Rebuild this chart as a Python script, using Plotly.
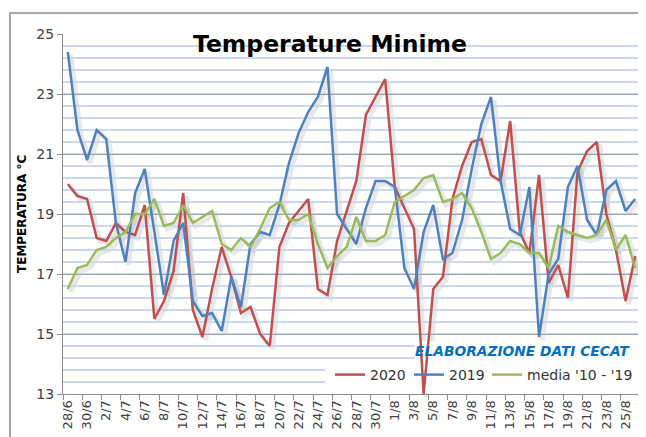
import plotly.graph_objects as go

# ---------------- data ----------------
dates = ([f"{d}/6" for d in range(28, 31)] +
         [f"{d}/7" for d in range(1, 32)] +
         [f"{d}/8" for d in range(1, 27)])

t2020 = [20.0, 19.6, 19.5, 18.2, 18.1, 18.7, 18.4, 18.3, 19.3, 15.5,
         16.1, 17.1, 19.7, 15.8, 14.9, 16.5, 17.9, 16.9, 15.7, 15.9,
         15.0, 14.6, 17.9, 18.7, 19.1, 19.5, 16.5, 16.3, 18.1, 19.1,
         20.1, 22.3, 22.9, 23.5, 19.9, 19.2, 18.5, 13.0, 16.5, 16.9,
         19.5, 20.6, 21.4, 21.5, 20.3, 20.1, 22.1, 18.4, 17.7, 20.3,
         16.7, 17.3, 16.2, 20.4, 21.1, 21.4, 19.0, 17.8, 16.1, 17.6]

t2019 = [24.4, 21.8, 20.8, 21.8, 21.5, 18.7, 17.4, 19.7, 20.5, 18.4,
         16.3, 18.1, 18.7, 16.1, 15.6, 15.7, 15.1, 16.9, 15.9, 18.0,
         18.4, 18.3, 19.3, 20.7, 21.7, 22.4, 22.9, 23.9, 19.0, 18.5,
         18.0, 19.2, 20.1, 20.1, 19.9, 17.2, 16.5, 18.4, 19.3, 17.5,
         17.7, 18.8, 20.5, 22.0, 22.9, 20.1, 18.5, 18.3, 19.9, 14.9,
         17.0, 17.5, 19.9, 20.6, 18.8, 18.3, 19.8, 20.1, 19.1, 19.5]

media = [16.5, 17.2, 17.3, 17.8, 17.9, 18.2, 18.4, 19.0, 19.0, 19.5,
         18.6, 18.7, 19.3, 18.7, 18.9, 19.1, 18.0, 17.8, 18.2, 17.9,
         18.5, 19.2, 19.4, 18.8, 18.8, 19.0, 18.0, 17.2, 17.6, 17.9,
         18.9, 18.1, 18.1, 18.3, 19.4, 19.6, 19.8, 20.2, 20.3, 19.4,
         19.5, 19.7, 19.2, 18.4, 17.5, 17.7, 18.1, 18.0, 17.7, 17.7,
         17.2, 18.6, 18.4, 18.3, 18.2, 18.3, 18.8, 17.8, 18.3, 17.2]

series = [("2020", t2020, "#c0504d", "legend"),
          ("2019", t2019, "#4f81bd", "legend"),
          ("media '10 - '19", media, "#9bbb59", "legend2")]

y_ticks = [13, 15, 17, 19, 21, 23, 25]
x_idx = list(range(len(dates)))
X_RANGE = [-0.5, len(dates) - 0.5]
Y_RANGE = [13, 25]

# ---------------- geometry helpers ----------------
OFF = 8                       # browser body margin
W, H = 646 - OFF, 437 - OFF   # 638 x 429
ML, MR, MT, MB = 63 - OFF, 3, 34 - OFF, 40
PW = W - ML - MR
PH = H - MT - MB
SH = 3                        # shadow offset px

def xp(px):                   # screen px -> paper
    return (px - OFF - ML) / PW

def yp(py):
    return (H - MB - (py - OFF)) / PH

PX0, PX1, PY0, PY1 = 63, 63 + PW - SH, 34, 34 + PH - SH   # main plot area (screen)

def xa(px):                   # screen px -> x2 axis units
    return X_RANGE[0] + (px - PX0) / (PX1 - PX0) * (X_RANGE[1] - X_RANGE[0])

def ya(py):                   # screen px -> y2 axis units
    return Y_RANGE[0] + (PY1 - py) / (PY1 - PY0) * (Y_RANGE[1] - Y_RANGE[0])

FONT = "DejaVu Sans"

fig = go.Figure()

# soft shadows (drawn first, on shifted hidden axes)
for name, vals, col, lg in series:
    fig.add_trace(go.Scatter(x=x_idx, y=vals, mode="lines", xaxis="x", yaxis="y",
                             line=dict(color="rgba(0,0,0,0.09)", width=5),
                             showlegend=False, hoverinfo="skip"))

# main lines
for name, vals, col, lg in series:
    fig.add_trace(go.Scatter(x=x_idx, y=vals, mode="lines", name=name,
                             xaxis="x2", yaxis="y2", legend=lg,
                             line=dict(color=col, width=2.5)))

legend_common = dict(orientation="h", yanchor="top", xanchor="left",
                     bgcolor="rgba(0,0,0,0)",
                     font=dict(size=14, color="#333333", family=FONT),
                     itemwidth=30, tracegroupgap=0)

fig.update_layout(
    width=W, height=H,
    margin=dict(l=ML, r=MR, t=MT, b=MB, pad=0),
    paper_bgcolor="white", plot_bgcolor="rgba(0,0,0,0)",
    font=dict(family=FONT, color="#404040", size=13),
    xaxis=dict(domain=[SH / PW, 1], range=X_RANGE, visible=False, anchor="y"),
    yaxis=dict(domain=[0, 1 - SH / PH], range=Y_RANGE, visible=False, anchor="x"),
    xaxis2=dict(domain=[0, 1 - SH / PW], range=X_RANGE, anchor="y2",
                tickmode="array", tickvals=x_idx[::2], ticktext=dates[::2],
                tickangle=-90, ticks="", showgrid=False, zeroline=False,
                showline=True, linecolor="#8c8c8c", linewidth=1,
                tickfont=dict(size=13, color="#404040"),
                minor=dict(tickmode="linear", tick0=-0.5, dtick=2, ticks="outside",
                           ticklen=5, tickcolor="#8c8c8c", tickwidth=1, showgrid=False)),
    yaxis2=dict(domain=[SH / PH, 1], range=Y_RANGE, anchor="x2",
                tickmode="array", tickvals=y_ticks, ticks="outside", ticklen=5,
                tickcolor="#8c8c8c", showline=True, linecolor="#8c8c8c", linewidth=1,
                showgrid=True, gridcolor="#a0a0a0", gridwidth=1.3, zeroline=False,
                tickfont=dict(size=14, color="#404040"),
                minor=dict(tick0=13, dtick=0.4, showgrid=True,
                           gridcolor="#c9d9f2", gridwidth=1.6)),
    legend=dict(x=xp(330), y=yp(359), entrywidth=34, entrywidthmode="pixels",
                **legend_common),
    legend2=dict(x=xp(487), y=yp(359), **legend_common),
    showlegend=True,
)

# white boxes behind legend and credit text: hide gridlines, stay under the lines
for (xa0, xa1, ya0, ya1) in [(325, 640, 362, 393), (415, 640, 341, 362)]:
    fig.add_shape(type="rect", xref="x2", yref="y2",
                  x0=xa(xa0), x1=xa(xa1), y0=ya(ya1), y1=ya(ya0),
                  line=dict(width=0), fillcolor="white", layer="between")

fig.add_annotation(text="<b>Temperature Minime</b>", xref="paper", yref="paper",
                   x=xp(330), y=yp(44), xanchor="center", yanchor="middle",
                   showarrow=False, font=dict(size=23.5, color="black", family=FONT))
fig.add_annotation(text="<b>TEMPERATURA °C</b>", xref="paper", yref="paper",
                   x=xp(22), y=yp(214), xanchor="center", yanchor="middle",
                   textangle=-90, showarrow=False,
                   font=dict(size=12, color="black", family=FONT))
fig.add_annotation(text="<b><i>ELABORAZIONE DATI CECAT</i></b>", xref="paper", yref="paper",
                   x=xp(632), y=yp(351), xanchor="right", yanchor="middle",
                   showarrow=False,
                   font=dict(size=13.8, color="#0070c0", family=FONT))

fig.add_shape(type="rect", xref="paper", yref="paper",
              x0=xp(10), x1=xp(700), y0=yp(480), y1=yp(13),
              line=dict(color="#8c8c8c", width=1.5), fillcolor="rgba(0,0,0,0)", layer="below")

fig.write_html("out.html")
